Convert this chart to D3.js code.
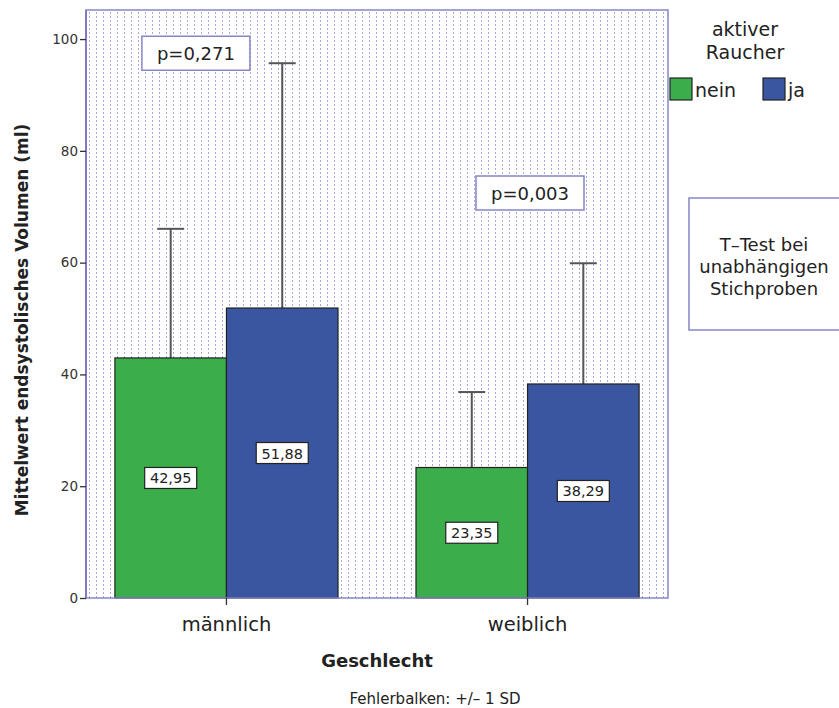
<!DOCTYPE html>
<html><head><meta charset="utf-8">
<script src="https://cdn.jsdelivr.net/npm/d3@7"></script>
<style>body{margin:0;background:#fff}svg{display:block;font-family:"DejaVu Sans",sans-serif}</style>
</head><body>
<script>
const categories = ["männlich", "weiblich"];
const groups = ["nein", "ja"];
const means = [[42.95, 51.88], [23.35, 38.29]];
const sds = [[23.1, 43.8], [13.5, 21.6]];
const labels = [["42,95", "51,88"], ["23,35", "38,29"]];
const pValues = ["p=0,271", "p=0,003"];
const yTicks = [0, 20, 40, 60, 80, 100];
const colors = ["#3bad4a", "#3a56a0"];

const W = 839, H = 708;
const svg = d3.select("body").append("svg").attr("width", W).attr("height", H);
const L = 86, R = 668, T = 10, B = 598;

const y = d3.scaleLinear().domain([0, 105.2]).range([B, T]);
const x = d3.scaleBand().domain(categories).range([L, R]).paddingInner(0.259).paddingOuter(0.096);
const xs = d3.scaleBand().domain(groups).range([0, x.bandwidth()]);

const defs = svg.append("defs");
const pat = defs.append("pattern").attr("id", "dots").attr("patternUnits", "userSpaceOnUse")
  .attr("width", 7).attr("height", 4).attr("x", L + 3);
pat.append("rect").attr("x", 0).attr("y", 0).attr("width", 1).attr("height", 2).attr("fill", "#a8a8e2");

svg.append("rect").attr("x", L).attr("y", T).attr("width", R - L).attr("height", B - T).attr("fill", "url(#dots)");

// error bars
categories.forEach((c, i) => {
  groups.forEach((g, j) => {
    const bx = x(c) + xs(g), bw = xs.bandwidth(), cx = bx + bw / 2;
    const top = y(means[i][j] + sds[i][j]);
    svg.append("line").attr("x1", cx).attr("x2", cx).attr("y1", y(means[i][j])).attr("y2", top)
      .attr("stroke", "#555").attr("stroke-width", 2);
    svg.append("line").attr("x1", cx - 13.5).attr("x2", cx + 13.5).attr("y1", top).attr("y2", top)
      .attr("stroke", "#555").attr("stroke-width", 2);
  });
});
// bars
categories.forEach((c, i) => {
  groups.forEach((g, j) => {
    const bx = x(c) + xs(g), bw = xs.bandwidth();
    svg.append("rect").attr("x", bx).attr("y", y(means[i][j])).attr("width", bw)
      .attr("height", y(0) - y(means[i][j])).attr("fill", colors[j]).attr("stroke", "#222").attr("stroke-width", 1.2);
  });
});
// value labels
categories.forEach((c, i) => {
  groups.forEach((g, j) => {
    const cx = x(c) + xs(g) + xs.bandwidth() / 2;
    const cy = y(means[i][j] / 2);
    svg.append("rect").attr("x", cx - 26).attr("y", cy - 10.5).attr("width", 52).attr("height", 21)
      .attr("fill", "#fff").attr("stroke", "#222").attr("stroke-width", 1.2);
    svg.append("text").attr("x", cx).attr("y", cy + 5.5).attr("text-anchor", "middle")
      .attr("font-size", 14.5).attr("fill", "#222").text(labels[i][j]);
  });
});

// p boxes
const pPos = [{x: x(categories[0]) + 27, y: y(100.5)}, {x: x(categories[1]) + 60, y: y(75.5)}];
pValues.forEach((p, i) => {
  svg.append("rect").attr("x", pPos[i].x).attr("y", pPos[i].y).attr("width", 108).attr("height", 34)
    .attr("fill", "#fff").attr("stroke", "#8585c9").attr("stroke-width", 1.5);
  svg.append("text").attr("x", pPos[i].x + 54).attr("y", pPos[i].y + 24).attr("text-anchor", "middle")
    .attr("font-size", 18).attr("fill", "#222").text(p);
});

// frame
svg.append("rect").attr("x", L).attr("y", T).attr("width", R - L).attr("height", B - T)
  .attr("fill", "none").attr("stroke", "#8585c9").attr("stroke-width", 1.5);
svg.append("line").attr("x1", L).attr("x2", L).attr("y1", T).attr("y2", B).attr("stroke", "#7b7bc6").attr("stroke-width", 2);

// y axis
const yAxis = svg.append("g").attr("transform", `translate(${L},0)`)
  .call(d3.axisLeft(y).tickValues(yTicks).tickSize(6).tickPadding(2));
yAxis.select(".domain").remove();
yAxis.selectAll("line").attr("stroke", "#333").attr("stroke-width", 1.3);
yAxis.selectAll("text").attr("font-size", 13.5).attr("fill", "#333").attr("font-family", "DejaVu Sans, sans-serif");

// x axis
const xAxis = svg.append("g").attr("transform", `translate(0,${B})`)
  .call(d3.axisBottom(x).tickSize(7).tickPadding(12));
xAxis.select(".domain").remove();
xAxis.selectAll("line").attr("stroke", "#333").attr("stroke-width", 1.3);
xAxis.selectAll("text").attr("font-size", 19.5).attr("fill", "#222").attr("font-family", "DejaVu Sans, sans-serif");

svg.append("text").attr("x", (L + R) / 2 - 0).attr("y", 667).attr("text-anchor", "middle")
  .attr("font-size", 18).attr("font-weight", "bold").attr("fill", "#222").text("Geschlecht");
svg.append("text").attr("transform", `translate(28,${(T + B) / 2 + 16}) rotate(-90)`).attr("text-anchor", "middle")
  .attr("font-size", 17).attr("font-weight", "bold").attr("fill", "#222").text("Mittelwert endsystolisches Volumen (ml)");
svg.append("text").attr("x", 435).attr("y", 704).attr("text-anchor", "middle")
  .attr("font-size", 15).attr("fill", "#222").text("Fehlerbalken: +/– 1 SD");

// legend
svg.append("text").attr("x", 745).attr("y", 36).attr("text-anchor", "middle").attr("font-size", 19).attr("fill", "#222").text("aktiver");
svg.append("text").attr("x", 745).attr("y", 59).attr("text-anchor", "middle").attr("font-size", 19).attr("fill", "#222").text("Raucher");
const legX = [670, 763];
groups.forEach((g, j) => {
  svg.append("rect").attr("x", legX[j]).attr("y", 78).attr("width", 22).attr("height", 22)
    .attr("fill", colors[j]).attr("stroke", "#222").attr("stroke-width", 1.2);
  svg.append("text").attr("x", legX[j] + 25).attr("y", 97).attr("font-size", 19).attr("fill", "#222").text(g);
});

// t-test box
svg.append("rect").attr("x", 689).attr("y", 198).attr("width", 160).attr("height", 132)
  .attr("fill", "#fff").attr("stroke", "#8585c9").attr("stroke-width", 1.5);
["T–Test bei", "unabhängigen", "Stichproben"].forEach((t, k) => {
  svg.append("text").attr("x", 764).attr("y", 251 + k * 22).attr("text-anchor", "middle")
    .attr("font-size", 18).attr("fill", "#222").text(t);
});
</script>
</body></html>
